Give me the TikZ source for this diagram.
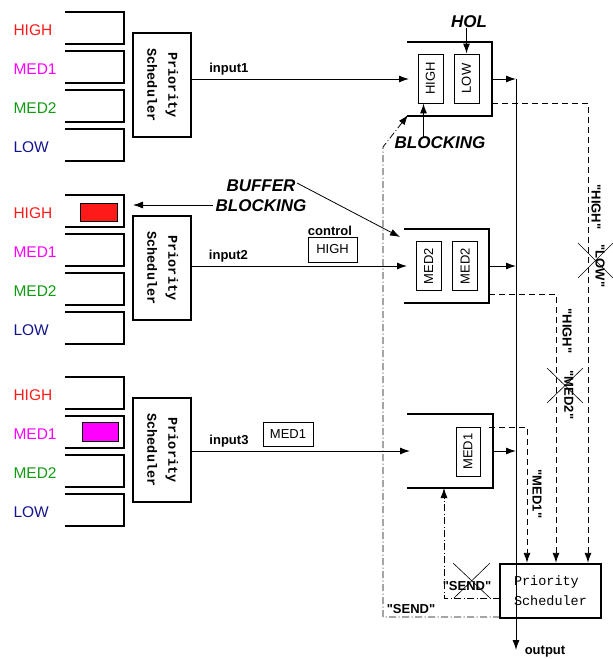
\documentclass[tikz,border=0pt]{standalone}
\usepackage{fontspec}
\setmainfont{Liberation Sans}[Ligatures=TeXOff]
\setmonofont{Liberation Mono}
\usepackage{graphicx}
\usepackage{tikz}
\usetikzlibrary{arrows.meta}
\definecolor{prhigh}{HTML}{FF1A1A}
\definecolor{prmedone}{HTML}{FF00FF}
\definecolor{prmedtwo}{HTML}{129A12}
\definecolor{prlow}{HTML}{14148F}

\begin{document}
\begin{tikzpicture}[x=1pt, y=-1pt, >={Latex[length=10pt,width=7pt]},
    font=\fontsize{13}{15}\selectfont,
    buf/.style={line width=2.4pt},
    qbox/.style={line width=2.4pt},
    sched/.style={draw, line width=1.8pt, minimum width=58pt, minimum height=104pt, inner sep=0pt,
        font=\ttfamily\bfseries\fontsize{13.5}{21}\selectfont},
    slot/.style={draw, line width=0.9pt, minimum width=25pt, minimum height=49pt, inner sep=0pt},
    tag/.style={draw, line width=0.9pt, minimum width=50pt, minimum height=25pt, inner sep=0pt},
    lbl/.style={font=\bfseries\fontsize{13}{15}\selectfont},
    bigemph/.style={font=\bfseries\itshape\fontsize{17}{20}\selectfont, inner sep=0pt},
    conn/.style={line width=1pt},
    dsh/.style={->, line width=0.9pt, dash pattern=on 6pt off 4pt},
    dashdot/.style={->, line width=0.8pt, dash pattern=on 7pt off 2.5pt on 1pt off 2.5pt}]
        \useasboundingbox (0,0) rectangle (613,659);

        % input buffers with their schedulers
        \foreach \g/\n in {0/1, 183/2, 365/3} {
            \foreach \lbl/\col [count=\k from 0] in {HIGH/prhigh, MED1/prmedone, MED2/prmedtwo, LOW/prlow} {
                \draw[buf] (65,12+\g+39*\k) -- (124,12+\g+39*\k) -- (124,44+\g+39*\k) -- (65,44+\g+39*\k);
                \node[anchor=west, text=\col, font=\fontsize{15.5}{17}\selectfont] (prio\n\k) at (10,30+\g+39*\k) {\lbl};
            }
            \node[sched] (s\n) at (162,85+\g) {\rotatebox{-90}{\begin{tabular}{@{}c@{}}Priority\\Scheduler\end{tabular}}};
        }
        \node[draw, fill=prhigh, line width=0.8pt, minimum width=37pt, minimum height=18pt] (fullhigh) at (98.5,212) {};
        \node[draw, fill=prmedone, line width=0.8pt, minimum width=36pt, minimum height=19pt] (fullmed) at (100,431.5) {};

        % queues
        \draw[qbox] (407,42) -- (492,42) -- (492,116) -- (407,116);
        \draw[qbox] (404,229) -- (489,229) -- (489,303) -- (404,303);
        \draw[qbox] (407,414) -- (493,414) -- (493,488) -- (407,488);
        \node[slot] (hi1) at (430.5,78.5) {\rotatebox{90}{HIGH}};
        \node[slot] (lo1) at (466.5,78.5) {\rotatebox{90}{LOW}};
        \node[slot] (mA2) at (428.5,266) {\rotatebox{90}{MED2}};
        \node[slot] (mB2) at (465,266) {\rotatebox{90}{MED2}};
        \node[slot, minimum width=24pt] (m3) at (468,451.5) {\rotatebox{90}{MED1}};

        \coordinate (q1in) at (409,79);
        \coordinate (q2in) at (407,266);
        \coordinate (q3in) at (410,451);
        \coordinate (q1out) at (492,79);
        \coordinate (q2out) at (489,266);
        \coordinate (q3out) at (493,451);
        \coordinate (o1) at (516,79);
        \coordinate (o2) at (516,266);
        \coordinate (o3) at (516,451);
        \coordinate (obot) at (516,650);

        \draw[->, conn] (s1.east |- q1in) -- node[lbl, above, pos=0.17] (in1) {input1} (q1in);
        \draw[->, conn] (s2.east |- q2in) -- node[lbl, above, pos=0.17] (in2) {input2} (q2in);
        \draw[->, conn] (s3.east |- q3in) -- node[lbl, above, pos=0.17] (in3) {input3} (q3in);
        \draw[->, conn] (q1out) -- (o1);
        \draw[->, conn] (q2out) -- (o2);
        \draw[->, conn] (q3out) -- (o3);
        \draw[->, conn] (o1) -- (obot);
        \node[lbl] (outlbl) at (545,652) {output};

        % packets on the wires
        \node[lbl] (ctrl) at (330,231) {control};
        \node[tag, minimum width=49pt] (ctrlhigh) at (332.5,249.5) {HIGH};
        \node[tag, minimum height=24pt] (pkt3) at (288,434) {MED1};

        % blocking notes
        \node[bigemph] (hol) at (469,22) {HOL};
        \draw[->, conn] (lo1.north |- hol.south) -- (lo1.north);
        \node[bigemph] (blk) at (440,143) {BLOCKING};
        \draw[->, conn] ([xshift=-7pt]hi1.south |- blk.north) -- ([xshift=-7pt]hi1.south);
        \node[bigemph, align=center] (bufblk) at (261,196) {BUFFER\\BLOCKING};
        \coordinate (bbright) at (297,183);
        \coordinate (q2corner) at (400,237);
        \coordinate (bbleft) at (213,205);
        \coordinate (buf2high) at (133,205);
        \draw[->, line width=0.8pt] (bbright) -- (q2corner);
        \draw[->, line width=0.8pt] (bbleft) -- (buf2high);

        % output scheduler
        \node[draw, line width=2.4pt, minimum width=101pt, minimum height=54pt, align=left,
            font=\ttfamily\fontsize{13.5}{20}\selectfont] (fs) at (550.5,591) {Priority\\Scheduler};

        % requests
        \coordinate (d1) at (492,103);
        \coordinate (d2) at (489,294);
        \coordinate (d3) at (489,427);
        \draw[dsh] (d1) -| ([xshift=37.5pt]fs.north);
        \draw[dsh] (d2) -| ([xshift=5.5pt]fs.north);
        \draw[dsh] (d3) -| ([xshift=-23.5pt]fs.north);
        \node[lbl, rotate=-90] (rq1a) at (596,207) {"HIGH"};
        \node[lbl, rotate=-90] (rq1b) at (600,266) {"LOW"};
        \draw[line width=0.6pt] (578,243) -- (613,278) (613,243) -- (578,278);
        \node[lbl, rotate=-90] (rq2a) at (567,331) {"HIGH"};
        \node[lbl, rotate=-90] (rq2b) at (569,395) {"MED2"};
        \draw[line width=0.6pt] (547,368) -- (583,403) (583,368) -- (547,403);
        \node[lbl, rotate=-90] (rq3) at (537,494) {"MED1"};

        % grants
        \coordinate (send1) at (500,598);
        \coordinate (q3bottom) at (444,488);
        \coordinate (send2) at (500,617);
        \coordinate (q1corner) at (408,115);
        \draw[dashdot] (send1) -| (q3bottom);
        \draw[dashdot] (send2) -| (383,147) -- (q1corner);
        \node[lbl] (sendx) at (467,586) {"SEND"};
        \draw[line width=0.6pt] (453,563) -- (490,598) (490,563) -- (454,598);
        \node[lbl] (sendok) at (411,609) {"SEND"};
    \end{tikzpicture}
\end{document}
